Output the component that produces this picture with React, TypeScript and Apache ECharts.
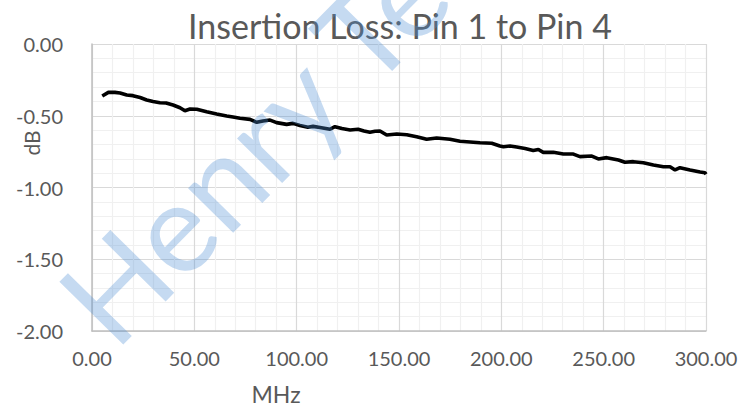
import React, { useEffect, useRef } from "react";
import * as echarts from "echarts";

const freqMHz = [5.0, 8.0, 11.2, 13.7, 17.0, 20.0, 23.5, 26.7, 29.8, 33.2, 36.2, 39.6, 43.0, 45.4, 47.9, 51.2, 56.0, 60.9, 65.8, 68.9, 72.3, 77.2, 80.5, 83.5, 87.0, 90.2, 95.1, 98.2, 101.6, 105.5, 108.0, 111.4, 116.3, 118.7, 122.1, 126.1, 130.0, 132.9, 135.8, 138.3, 140.7, 144.0, 148.9, 153.8, 158.6, 163.5, 168.4, 174.9, 179.8, 184.7, 189.6, 195.3, 199.3, 201.0, 204.2, 207.5, 211.6, 215.6, 218.1, 220.5, 225.4, 230.3, 235.2, 238.4, 244.2, 247.4, 251.5, 257.2, 260.4, 264.5, 269.4, 274.3, 279.2, 282.4, 284.9, 287.3, 292.2, 297.1, 299.5, 300.0];
const lossDB = [-0.362, -0.337, -0.337, -0.341, -0.355, -0.360, -0.373, -0.390, -0.401, -0.409, -0.411, -0.425, -0.444, -0.465, -0.453, -0.455, -0.472, -0.488, -0.502, -0.509, -0.518, -0.525, -0.546, -0.537, -0.530, -0.548, -0.560, -0.553, -0.568, -0.580, -0.574, -0.582, -0.594, -0.576, -0.589, -0.599, -0.594, -0.606, -0.615, -0.608, -0.606, -0.634, -0.627, -0.632, -0.646, -0.664, -0.655, -0.664, -0.678, -0.683, -0.688, -0.692, -0.711, -0.716, -0.711, -0.718, -0.728, -0.742, -0.735, -0.755, -0.755, -0.767, -0.767, -0.785, -0.781, -0.801, -0.792, -0.808, -0.824, -0.820, -0.827, -0.843, -0.855, -0.855, -0.878, -0.862, -0.878, -0.892, -0.897, -0.908];

const titleText = "Insertion Loss: Pin 1 to Pin 4";
const xName = "MHz";
const yName = "dB";
const watermarkText = "Henry Te";

const FONT = "Lato, 'Open Sans', sans-serif";
const TEXT_COLOR = "#595959";

export default function App() {
  const ref = useRef<HTMLDivElement>(null);
  useEffect(() => {
    if (!ref.current) return;
    const chart = echarts.init(ref.current, undefined, { renderer: "svg" });
    const data = freqMHz.map((f, i) => [f, lossDB[i]]);
    chart.setOption({
      animation: false,
      backgroundColor: "#ffffff",
      grid: { left: 92, right: 47, top: 44, bottom: 78 },
      xAxis: {
        type: "value",
        min: 0,
        max: 300,
        interval: 50,
        axisLine: { show: true, onZero: false, lineStyle: { color: "#bfbfbf", width: 1.5 } },
        axisTick: { show: false },
        axisLabel: {
          margin: 17,
          color: TEXT_COLOR,
          fontFamily: FONT,
          fontSize: 20,
          formatter: (v: number) => v.toFixed(2),
        },
        splitLine: { show: true, lineStyle: { color: "#d9d9d9", width: 1.2 } },
        minorTick: { show: false, splitNumber: 5 },
        minorSplitLine: { show: true, lineStyle: { color: "#f0f0f0", width: 1.2 } },
      },
      yAxis: {
        type: "value",
        min: -2,
        max: 0,
        interval: 0.5,
        axisLine: { show: true, lineStyle: { color: "#bfbfbf", width: 1.5 } },
        axisTick: { show: false },
        axisLabel: {
          margin: 29,
          color: TEXT_COLOR,
          fontFamily: FONT,
          fontSize: 20,
          formatter: (v: number) => v.toFixed(2),
        },
        splitLine: { show: true, lineStyle: { color: "#d9d9d9", width: 1.2 } },
        minorTick: { show: false, splitNumber: 5 },
        minorSplitLine: { show: true, lineStyle: { color: "#f0f0f0", width: 1.2 } },
      },
      series: [
        {
          type: "line",
          data,
          showSymbol: false,
          lineStyle: { color: "#000000", width: 3.6 },
          z: 5,
        },
      ],
      graphic: [
        {
          type: "text",
          x: 400,
          y: 25,
          style: {
            text: titleText,
            font: `34px ${FONT}`,
            fill: TEXT_COLOR,
            textAlign: "center",
            textVerticalAlign: "middle",
          },
        },
        {
          type: "text",
          x: 276,
          y: 394,
          style: {
            text: xName,
            font: `23px ${FONT}`,
            fill: TEXT_COLOR,
            textAlign: "center",
            textVerticalAlign: "middle",
          },
        },
        {
          type: "text",
          x: 31,
          y: 143,
          rotation: Math.PI / 2,
          style: {
            text: yName,
            font: `21px ${FONT}`,
            fill: TEXT_COLOR,
            textAlign: "center",
            textVerticalAlign: "middle",
          },
        },
        {
          type: "text",
          x: 81,
          y: 319,
          rotation: (45.5 * Math.PI) / 180,
          z: 100,
          style: {
            text: watermarkText,
            font: `125px ${FONT}`,
            fill: "#4f8fd6",
            opacity: 0.33,
            textAlign: "left",
            textVerticalAlign: "middle",
          },
        },
      ],
    });
    return () => chart.dispose();
  }, []);
  return (
    <div
      ref={ref}
      style={{ position: "fixed", left: 0, top: 0, width: 753, height: 409 }}
    />
  );
}
